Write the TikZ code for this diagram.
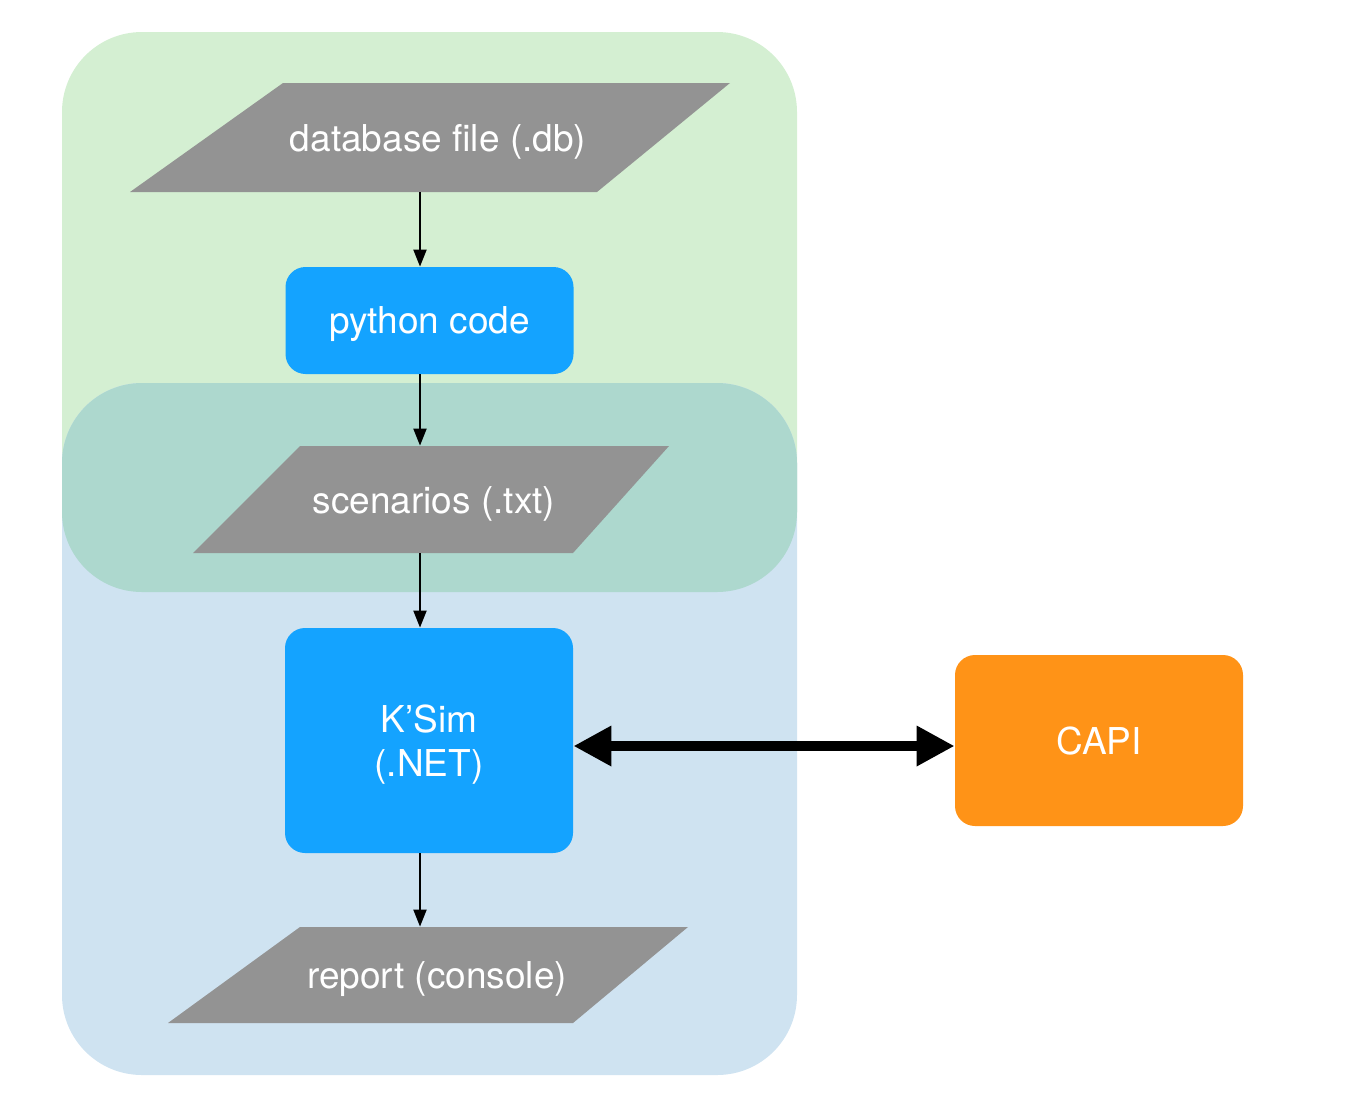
\documentclass[tikz,border=0pt]{standalone}
\usepackage{fontspec}
\setmainfont{TeX Gyre Heros}
\usetikzlibrary{arrows.meta}
\definecolor{greenbg}{HTML}{D4EFD2}
\definecolor{bluebg}{HTML}{CFE3F1}
\definecolor{tealbg}{HTML}{ADD8CE}
\definecolor{shapegray}{HTML}{939393}
\definecolor{procblue}{HTML}{14A3FF}
\definecolor{capiorange}{HTML}{FF9317}
\tikzset{
  lbl/.style={text=white, font=\fontsize{18.5}{22}\selectfont, inner sep=0pt, text depth=0pt},
  procbox/.style={fill=procblue, rounded corners=10pt, text=white, font=\fontsize{18.5}{22}\selectfont, align=center, inner sep=0pt, text depth=0pt},
  capibox/.style={fill=capiorange, rounded corners=10pt, text=white, font=\fontsize{18.5}{22}\selectfont, inner sep=0pt, text depth=0pt},
  flow/.style={-{Triangle[length=8.5pt,width=6.5pt]}, line width=1pt, black},
  bigflow/.style={{Triangle[length=19pt,width=19pt]}-{Triangle[length=19pt,width=19pt]}, line width=5pt, black}
}
\begin{document}
\begin{tikzpicture}[x=0.5pt,y=-0.5pt]
\useasboundingbox (0,0) rectangle (1345,1116);
% background regions
\fill[greenbg, rounded corners=40pt] (62,32) rectangle (797,592);
\fill[bluebg, rounded corners=40pt] (62,383) rectangle (797,1075);
\begin{scope}
  \clip[rounded corners=40pt] (62,32) rectangle (797,592);
  \fill[tealbg, rounded corners=40pt] (62,383) rectangle (797,1075);
\end{scope}
% parallelograms
\fill[shapegray] (283,83) -- (730,83) -- (597,192) -- (130,192) -- cycle;
\node[lbl, minimum height=54.5pt] (db) at (438,137.5) {database file (.db)};
\fill[shapegray] (300,446) -- (669,446) -- (573,553) -- (193,553) -- cycle;
\node[lbl, minimum height=53.5pt] (sc) at (434,499.5) {scenarios (.txt)};
\fill[shapegray] (300,927) -- (688,927) -- (573,1023) -- (168,1023) -- cycle;
\node[lbl, minimum height=48pt] (rp) at (437,975) {report (console)};
% process boxes
\node[procbox, minimum width=144pt, minimum height=53.5pt] (py) at (429.5,320.5) {python code};
\node[procbox, minimum width=144pt, minimum height=112.5pt] (ks) at (429,740.5) {K’Sim\\(.NET)};
\node[capibox, minimum width=144pt, minimum height=85.5pt] (capi) at (1099,740.5) {CAPI};
% connectors
\coordinate (ax) at (420,0);
\draw[flow] (db.south -| ax) -- (py.north -| ax);
\draw[flow] (py.south -| ax) -- (sc.north -| ax);
\draw[flow] (sc.south -| ax) -- (ks.north -| ax);
\draw[flow] (ks.south -| ax) -- (rp.north -| ax);
\coordinate (ay) at (0,746);
\draw[bigflow] (ks.east |- ay) -- (capi.west |- ay);
\end{tikzpicture}
\end{document}
